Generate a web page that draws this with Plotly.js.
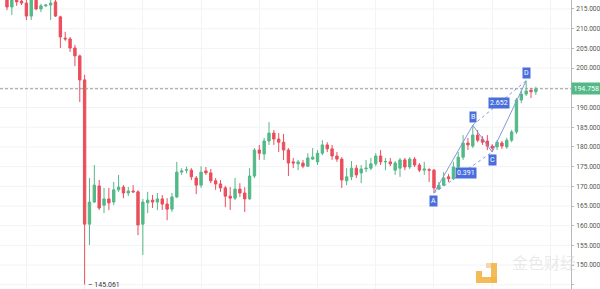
<!DOCTYPE html>
<html>
<head>
<meta charset="utf-8">
<script src="https://cdn.plot.ly/plotly-3.0.1.min.js"></script>
<style>html,body{margin:0;padding:0;background:#fff;}#chart{width:600px;height:289px;}</style>
</head>
<body>
<div id="chart"></div>
<script>
const opens = [218.0,215.5,217.3,217.0,216.5,213.2,217.8,215.0,215.8,216.0,216.8,213.0,207.6,207.4,205.1,203.1,197.0,160.4,166.0,170.1,
165.2,166.8,166.0,169.1,169.8,168.3,168.8,168.6,160.4,165.8,166.5,166.0,166.8,165.5,164.2,167.3,173.6,174.1,174.1,172.1,
170.3,173.9,173.4,171.4,170.6,169.6,167.5,167.0,169.3,168.3,166.8,172.6,179.2,178.2,181.5,183.5,182.0,181.2,179.2,176.2,
175.7,175.9,175.1,176.9,176.2,178.4,180.5,179.5,177.7,176.9,171.4,172.4,174.6,173.4,174.4,174.6,175.7,177.7,176.2,176.2,
174.1,174.6,176.7,174.9,176.9,175.4,174.1,174.2,174.1,169.3,170.3,172.4,171.9,174.9,177.4,181.0,180.2,183.0,182.0,181.5,
180.2,180.0,181.0,180.0,181.7,183.8,191.9,193.4,194.4,194.0];
const highs = [219.0,219.0,218.0,217.5,217.4,218.5,218.5,216.3,216.3,217.3,217.3,213.3,209.2,207.9,205.9,203.4,198.3,172.1,175.4,171.6,
169.6,169.6,171.1,172.9,170.3,169.8,170.3,169.0,166.8,168.6,167.8,168.3,167.8,167.0,168.3,176.2,174.6,175.0,174.6,172.6,
175.1,174.9,174.4,172.1,171.6,170.1,169.8,172.1,170.8,169.8,174.6,179.7,180.5,182.3,186.3,184.3,183.5,183.3,179.7,177.2,
176.7,176.7,178.4,179.7,179.2,181.7,181.2,180.5,178.7,177.4,174.6,176.4,175.4,175.4,176.7,177.2,178.4,179.2,177.2,177.2,
176.4,177.2,177.2,177.4,177.4,175.9,176.2,174.6,174.4,171.1,173.6,173.1,176.2,178.7,183.0,182.3,185.5,184.3,182.7,183.0,
180.7,181.7,181.5,182.3,184.3,192.4,194.4,196.8,195.0,195.3];
const lows = [214.7,213.5,215.8,216.0,212.2,212.2,214.7,214.2,215.5,212.2,213.0,205.1,206.9,204.1,200.5,191.4,145.061,155.1,165.8,164.0,
163.2,164.0,165.2,168.6,167.0,167.5,168.3,157.6,152.6,163.2,164.5,164.0,164.0,161.4,163.5,167.0,172.9,173.3,171.6,168.0,
169.6,172.9,170.8,169.1,168.6,164.7,164.0,166.5,167.3,163.5,166.6,172.1,176.7,176.7,180.5,180.5,178.7,176.7,172.6,174.6,
174.1,174.6,174.9,176.7,175.4,177.9,178.7,176.7,176.2,169.6,170.3,171.6,172.1,170.8,173.6,174.1,175.1,175.4,174.1,175.1,
172.9,172.4,174.1,174.4,174.9,173.6,172.9,171.1,168.3,169.1,170.1,171.1,171.6,174.6,176.7,179.2,179.7,181.2,180.5,179.2,
178.7,179.2,179.5,179.5,181.2,183.3,191.1,192.9,192.4,193.2];
const closes = [215.5,218.2,216.8,216.5,213.2,217.8,215.0,215.8,216.0,216.5,213.2,207.9,207.4,205.1,203.1,197.0,160.4,166.0,170.3,164.5,
166.8,165.8,169.1,169.8,168.3,168.8,168.6,160.2,166.0,166.5,166.0,166.8,165.5,164.2,167.3,173.6,173.9,174.2,172.4,170.3,
173.6,173.4,171.4,170.6,169.6,167.5,167.0,169.3,168.3,166.8,172.6,179.2,178.4,181.5,183.5,182.0,181.2,179.2,175.9,175.9,
176.2,175.1,177.2,177.4,178.4,180.5,179.5,177.7,176.9,171.6,172.4,174.6,172.9,174.4,174.6,175.7,177.7,176.2,176.3,175.7,
175.9,176.7,174.9,176.9,175.4,174.1,174.4,174.1,169.6,170.3,172.1,171.9,174.9,177.4,181.0,180.5,183.0,181.7,181.2,180.2,
179.7,181.2,180.2,181.7,183.8,191.9,193.4,194.2,194.0,194.758];
const idx = opens.map((_, i) => i);

const tickValues = [145,150,155,160,165,170,175,180,185,190,200,205,210,215];
const tickLabels = tickValues.map(v => v.toFixed(3));
const gridValues = [145,150,155,160,165,170,175,180,185,190,195,200,205,210,215];

const lastPrice = 194.758;
const lowPrice = 145.061;
const lowIndex = 16;

const patternNames = ['A','B','C','D'];
const patternIdx = [88, 96, 100, 107];
const patternPrice = [168.3, 185.5, 178.7, 196.8];
const ratioLabels = ['0.391','2.652'];

const up = '#53b987', down = '#eb4d5c', blue = '#4a6fdc', lineBlue = '#8598dc';

const traces = [{
  type: 'candlestick', x: idx, open: opens, high: highs, low: lows, close: closes,
  increasing: {line: {color: up, width: 1}, fillcolor: up},
  decreasing: {line: {color: down, width: 1}, fillcolor: down},
  whiskerwidth: 0, hoverinfo: 'none', showlegend: false
}];

const shapes = [];
gridValues.forEach(v => shapes.push({type:'line', xref:'paper', x0:0, x1:1, yref:'y', y0:v, y1:v, line:{color:'#f1f3f7', width:1}, layer:'below'}));
shapes.push({type:'line', xref:'paper', x0:0, x1:1, yref:'y', y0:lastPrice, y1:lastPrice, line:{color:'#9a9a9a', width:1, dash:'3px,2px'}});
// pattern lines
const P = patternNames.map((n,i)=>({x:patternIdx[i], y:patternPrice[i]}));
[[0,1,'solid'],[1,2,'solid'],[2,3,'solid'],[0,2,'dot'],[1,3,'dot']].forEach(([a,b,d]) => {
  shapes.push({type:'line', xref:'x', yref:'y', x0:P[a].x, y0:P[a].y, x1:P[b].x, y1:P[b].y, line:{color:lineBlue, width:1, dash:d}});
});
// watermark logo
const logo = '#f3b544', logoLight = '#f6cfa6';
[[0.8336,0.8704,0.0208,0.0415,logo],[0.8599,0.8704,0.0208,0.0900,logo],[0.8336,0.8441,0.0415,0.0623,logo],[0.8511,0.8599,0.0727,0.0900,logoLight]].forEach(([x0,x1,y0,y1,c]) => {
  shapes.push({type:'rect', xref:'paper', yref:'paper', x0, x1, y0, y1, fillcolor:c, line:{width:0}, opacity:0.9});
});

const annotations = [];
const offs = [-8, 8, -8, 8];
P.forEach((p,i) => annotations.push({x:p.x, y:p.y, xref:'x', yref:'y', text:patternNames[i], showarrow:false,
  yshift:offs[i], font:{family:'Roboto, sans-serif', size:7, color:'#fff'}, bgcolor:blue, borderpad:1}));
annotations.push({x:(P[0].x+P[2].x)/2, y:(P[0].y+P[2].y)/2, xref:'x', yref:'y', text:ratioLabels[0], showarrow:false,
  xshift:3, font:{family:'Roboto, sans-serif', size:7, color:'#fff'}, bgcolor:blue, borderpad:1});
annotations.push({x:(P[1].x+P[3].x)/2, y:(P[1].y+P[3].y)/2, xref:'x', yref:'y', text:ratioLabels[1], showarrow:false,
  font:{family:'Roboto, sans-serif', size:7, color:'#fff'}, bgcolor:blue, borderpad:1});
annotations.push({x:1, xref:'paper', y:lastPrice, yref:'y', xanchor:'left', text:lastPrice.toFixed(3), showarrow:false,
  xshift:0, font:{family:'Roboto, sans-serif', size:7, color:'#fff'}, bgcolor:up, borderpad:1.5});
annotations.push({x:lowIndex, xref:'x', y:lowPrice, yref:'y', xanchor:'left', text:'– ' + lowPrice.toFixed(3), showarrow:false,
  xshift:1, font:{family:'Roboto, sans-serif', size:7, color:'#333'}});
annotations.push({x:0.893, xref:'paper', y:0.045, yref:'paper', xanchor:'left', text:'金色财经', showarrow:false,
  font:{family:'Noto Sans CJK SC', size:16, color:'rgba(200,200,200,0.4)'}});

const layout = {
  width: 600, height: 289,
  margin: {l:0, r:29, t:0, b:0},
  paper_bgcolor: '#fff', plot_bgcolor: '#fff',
  xaxis: {range:[-1.44, 116.24], showticklabels:false, rangeslider:{visible:false}, zeroline:false,
    showgrid:true, gridcolor:'#f1f3f7', tick0:4, dtick:12, ticks:'', showline:false, fixedrange:true},
  yaxis: {side:'right', range:[143.94, 217.28], tickvals:tickValues, ticktext:tickLabels, showgrid:false, zeroline:false,
    showline:true, linecolor:'#b8b8b8', linewidth:1, ticks:'outside', ticklen:2, tickcolor:'#b8b8b8', ticklabelstandoff:1,
    tickfont:{family:'Roboto, sans-serif', size:6.6, color:'#555'}, fixedrange:true},
  shapes, annotations, showlegend:false
};
Plotly.newPlot('chart', traces, layout, {displayModeBar:false, staticPlot:true});
</script>
</body>
</html>
